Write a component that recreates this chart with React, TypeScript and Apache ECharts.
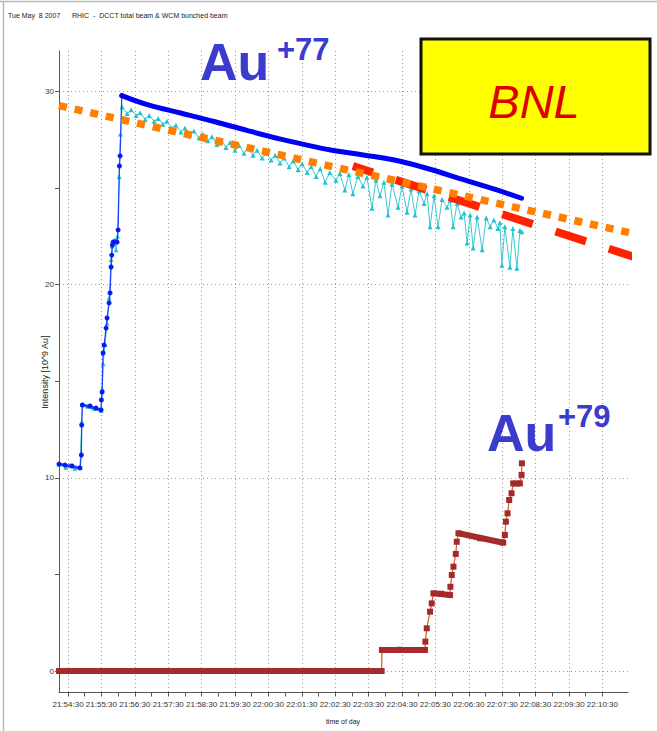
import React, { useEffect, useRef } from "react";
import * as echarts from "echarts";

// x values are minutes after 21:54:30, y values are 10^9 Au ions
const xTickLabels = [
  "21:54:30", "21:55:30", "21:56:30", "21:57:30", "21:58:30", "21:59:30",
  "22:00:30", "22:01:30", "22:02:30", "22:03:30", "22:04:30", "22:05:30",
  "22:06:30", "22:07:30", "22:08:30", "22:09:30", "22:10:30",
];
const yTickValues = [0, 10, 20, 30];

// Au+77 DCCT total beam (blue) during injection ramp
const dcctRamp: [number, number][] = [
  [-0.27, 10.71], [-0.09, 10.66], [0.12, 10.61], [0.36, 10.51], [0.4, 11.18],
  [0.41, 12.73], [0.43, 13.77], [0.66, 13.72], [0.84, 13.61], [0.99, 13.51],
  [1.0, 14.03], [1.02, 14.44], [1.05, 16.46], [1.08, 16.87], [1.14, 17.75],
  [1.17, 18.27], [1.23, 19.05], [1.26, 19.57], [1.29, 20.91], [1.31, 21.53],
  [1.33, 22.05], [1.35, 22.2], [1.41, 22.22], [1.47, 22.2], [1.5, 22.83],
  [1.54, 26.14], [1.56, 26.66], [1.61, 29.78],
];
// Au+77 DCCT total beam after the last injection
const dcctDecay: [number, number][] = [
  [1.61, 29.78], [2.4, 29.3], [3.4, 28.87], [4.4, 28.43], [5.4, 27.96],
  [6.4, 27.52], [7.4, 27.13], [7.99, 26.93], [8.84, 26.71], [9.84, 26.42],
  [10.84, 25.97], [11.84, 25.43], [12.84, 24.9], [13.58, 24.47],
];
// flat stretches of the DCCT ramp [x0, y0, x1, y1]
const dcctPlateaus: [number, number, number, number][] = [
  [-0.27, 10.71, 0.36, 10.51], [0.43, 13.77, 0.99, 13.51], [1.33, 22.1, 1.47, 22.2],
];
// Au+77 WCM bunched beam (cyan)
const wcmAu77: [number, number][] = [
  [-0.27, 10.7], [-0.06, 10.55], [0.06, 10.65], [0.21, 10.5], [0.36, 10.55],
  [0.41, 12.9], [0.43, 13.8], [0.6, 13.7], [0.78, 13.6], [0.99, 13.5],
  [1.03, 14.6], [1.05, 15.9], [1.11, 16.9], [1.17, 18.0], [1.23, 19.3],
  [1.29, 21.3], [1.32, 22.0], [1.38, 22.3], [1.44, 21.8], [1.48, 22.5],
  [1.53, 25.6], [1.57, 27.8], [1.62, 29.2], [1.77, 28.85], [1.89, 29.05],
  [2.04, 28.75], [2.16, 28.9], [2.31, 28.55], [2.43, 28.75], [2.58, 28.45],
  [2.7, 28.6], [2.84, 28.3], [2.96, 28.45], [3.11, 28.1], [3.23, 28.25],
  [3.38, 27.9], [3.5, 28.1], [3.65, 27.75], [3.77, 27.95], [3.92, 27.6],
  [4.04, 27.8], [4.19, 27.45], [4.31, 27.65], [4.46, 27.25], [4.58, 27.5],
  [4.73, 27.1], [4.85, 27.35], [5.0, 26.95], [5.12, 27.2], [5.27, 26.8],
  [5.39, 27.05], [5.54, 26.7], [5.66, 26.95], [5.81, 26.55], [5.93, 26.8],
  [6.08, 26.45], [6.2, 26.7], [6.35, 26.3], [6.47, 26.55], [6.62, 26.1],
  [6.74, 26.4], [6.89, 25.95], [7.01, 26.25], [7.16, 25.8], [7.28, 26.1],
  [7.43, 25.6], [7.55, 26.0], [7.7, 25.3], [7.84, 25.8], [8.02, 25.4],
  [8.14, 25.75], [8.29, 24.9], [8.41, 25.7], [8.53, 24.7], [8.68, 25.6],
  [8.83, 25.1], [8.95, 25.55], [9.1, 23.95], [9.22, 25.4], [9.34, 24.6],
  [9.46, 25.3], [9.58, 23.6], [9.7, 25.2], [9.88, 24.0], [10.0, 25.1],
  [10.15, 23.75], [10.27, 24.95], [10.39, 23.6], [10.51, 24.85], [10.66, 24.2],
  [10.75, 24.7], [10.84, 23.0], [10.96, 24.6], [11.08, 23.0], [11.2, 24.4],
  [11.35, 24.0], [11.44, 24.35], [11.53, 23.0], [11.65, 24.2], [11.77, 23.5],
  [11.86, 23.7], [11.95, 22.15], [12.04, 23.6], [12.13, 21.9], [12.25, 23.5],
  [12.4, 21.8], [12.52, 23.45], [12.64, 23.0], [12.75, 23.35], [12.87, 22.9],
  [12.93, 23.2], [12.99, 21.0], [13.08, 23.0], [13.23, 20.9], [13.32, 22.9],
  [13.44, 20.85], [13.53, 22.8], [13.59, 22.74],
];
// Au+79 beam (brown)
const au79: [number, number][] = [
  [-0.27, 0], [9.39, 0], [9.4, 1.09], [9.94, 1.1], [10.69, 1.09], [10.7, 1.52],
  [10.74, 2.21], [10.84, 3.07], [10.89, 3.5], [10.94, 4.02], [11.17, 4.0],
  [11.44, 3.93], [11.45, 4.36], [11.49, 4.97], [11.54, 5.4], [11.61, 6.06],
  [11.64, 6.69], [11.69, 7.13], [12.34, 6.87], [13.03, 6.64], [13.08, 7.04],
  [13.11, 7.73], [13.16, 8.16], [13.21, 8.85], [13.28, 9.2], [13.33, 9.71],
  [13.53, 9.71], [13.58, 10.15], [13.59, 10.75],
];
const au79Plateaus: [number, number, number, number][] = [
  [-0.27, 0, 9.39, 0], [9.4, 1.09, 10.69, 1.09], [10.94, 4.02, 11.44, 3.93],
  [11.69, 7.13, 13.03, 6.64], [13.33, 9.71, 13.53, 9.71],
];
// hand-drawn extrapolations
const orangeTrend: [number, number][] = [[-0.27, 29.26], [17.13, 22.56]];
const redTrend: [number, number][] = [[8.53, 26.14], [17.13, 21.33]];

// layout (pixels)
const PX_T0 = 68; // 21:54:30
const PX_PER_MIN = 33.4;
const PY_ZERO = 671;
const PY_PER_UNIT = 19.32;
const PLOT_L = 59, PLOT_R = 628, PLOT_T = 51, PLOT_B = 692.5;

const FONT = '"Liberation Sans Narrow", "Liberation Sans", sans-serif';

function segs(list: [number, number, number, number][]) {
  const out: any[] = [];
  list.forEach(([x0, y0, x1, y1]) => {
    out.push([x0, y0], [x1, y1], [x1, "-"]);
  });
  return out;
}

export default function App() {
  const ref = useRef<HTMLDivElement>(null);
  useEffect(() => {
    if (!ref.current) return;
    const chart = echarts.init(ref.current, null, { renderer: "svg" });
    const xMin = (PLOT_L - PX_T0) / PX_PER_MIN;
    const xMax = (PLOT_R - PX_T0) / PX_PER_MIN;
    const yMin = (PY_ZERO - PLOT_B) / PY_PER_UNIT;
    const yMax = (PY_ZERO - PLOT_T) / PY_PER_UNIT;
    const nTicks = xTickLabels.length - 1;
    const top30 = PY_ZERO - yTickValues[yTickValues.length - 1] * PY_PER_UNIT;
    const axisColor = "#555";
    const gridLine = { show: true, lineStyle: { type: [1, 3] as any, color: "#9a9a9a", width: 1 } };

    const option: any = {
      animation: false,
      backgroundColor: "#ffffff",
      grid: [
        { left: PLOT_L, top: PLOT_T, width: PLOT_R - PLOT_L, height: PLOT_B - PLOT_T },
        { left: PX_T0, top: PLOT_T, width: nTicks * PX_PER_MIN, height: PLOT_B - PLOT_T },
        { left: PLOT_L, top: top30, width: PLOT_R - PLOT_L, height: PY_ZERO - top30 },
      ],
      xAxis: [
        {
          gridIndex: 0, type: "value", min: xMin, max: xMax,
          axisLine: { show: true, onZero: false, lineStyle: { color: axisColor, width: 1 } },
          axisTick: { show: false }, axisLabel: { show: false }, splitLine: { show: false },
        },
        {
          gridIndex: 1, type: "value", min: 0, max: nTicks, interval: 1,
          axisLine: { show: false },
          axisTick: { show: true, length: 4, lineStyle: { color: axisColor } },
          minorTick: { show: true, splitNumber: 2, length: 4, lineStyle: { color: axisColor } },
          axisLabel: {
            formatter: (v: number) => xTickLabels[Math.round(v)] ?? "",
            fontSize: 8, fontFamily: FONT, color: "#333", margin: 8,
          },
          splitLine: gridLine,
        },
        { gridIndex: 2, type: "value", min: 0, max: 1, show: false },
      ],
      yAxis: [
        {
          gridIndex: 0, type: "value", min: yMin, max: yMax,
          axisLine: { show: true, onZero: false, lineStyle: { color: axisColor, width: 1 } },
          axisTick: { show: false }, axisLabel: { show: false }, splitLine: { show: false },
        },
        { gridIndex: 1, type: "value", min: 0, max: 1, show: false },
        {
          gridIndex: 2, type: "value", min: 0, max: 30, interval: 10,
          axisLine: { show: false },
          axisTick: { show: true, length: 4, lineStyle: { color: axisColor } },
          minorTick: { show: true, splitNumber: 2, length: 4, lineStyle: { color: axisColor } },
          axisLabel: { fontSize: 8, fontFamily: FONT, color: "#333", margin: 5 },
          splitLine: gridLine,
        },
      ],
      series: [
        {
          type: "line", name: "WCM Au77", data: wcmAu77, xAxisIndex: 0, yAxisIndex: 0,
          symbol: "triangle", symbolSize: 5, showSymbol: true,
          lineStyle: { color: "#3cc8d2", width: 1 }, itemStyle: { color: "#20c4cc" }, z: 2,
        },
        {
          type: "line", name: "DCCT plateaus", data: segs(dcctPlateaus), xAxisIndex: 0, yAxisIndex: 0,
          symbol: "none", connectNulls: false,
          lineStyle: { color: "#2030f0", width: 3, opacity: 0.8 }, z: 3,
        },
        {
          type: "line", name: "DCCT ramp", data: dcctRamp, xAxisIndex: 0, yAxisIndex: 0,
          symbol: "circle", symbolSize: 5, showSymbol: true,
          lineStyle: { color: "#1a3cff", width: 1.2 }, itemStyle: { color: "#0a1af0" }, z: 3,
        },
        {
          type: "line", name: "DCCT decay", data: dcctDecay, xAxisIndex: 0, yAxisIndex: 0,
          symbol: "none", smooth: 0.4,
          lineStyle: { color: "#0000f5", width: 5, cap: "round" }, z: 4,
        },
        {
          type: "line", name: "Au79 WCM", data: au79, xAxisIndex: 0, yAxisIndex: 0,
          symbol: "triangle", symbolSize: 3, showSymbol: true,
          lineStyle: { color: "#ffa020", width: 1 }, itemStyle: { color: "#ffa500" }, z: 3,
        },
        {
          type: "line", name: "Au79", data: au79, xAxisIndex: 0, yAxisIndex: 0,
          symbol: "rect", symbolSize: 6, showSymbol: true,
          lineStyle: { color: "#c0604a", width: 1 }, itemStyle: { color: "#a52a2a" }, z: 4,
        },
        {
          type: "line", name: "Au79 plateaus", data: segs(au79Plateaus), xAxisIndex: 0, yAxisIndex: 0,
          symbol: "none", connectNulls: false,
          lineStyle: { color: "#a52a2a", width: 6 }, z: 5,
        },
        {
          type: "line", name: "red trend", data: redTrend, xAxisIndex: 0, yAxisIndex: 0,
          symbol: "none", clip: false,
          lineStyle: { color: "#ff2200", width: 8, type: [32, 24], dashOffset: 11, cap: "butt" }, z: 6,
        },
        {
          type: "line", name: "orange trend", data: orangeTrend, xAxisIndex: 0, yAxisIndex: 0,
          symbol: "none", clip: false,
          lineStyle: { color: "#ff7f00", width: 7.5, type: [8, 8], cap: "butt" }, z: 7,
        },
      ],
      graphic: [
        { type: "line", shape: { x1: 0, y1: 1.5, x2: 657, y2: 1.5 }, style: { stroke: "#b8b8b8", lineWidth: 1.5 }, z: 10 },
        { type: "line", shape: { x1: 3.5, y1: 1, x2: 3.5, y2: 731 }, style: { stroke: "#b8b8b8", lineWidth: 1.5 }, z: 10 },
        { type: "text", x: 8, y: 15, style: { text: "Tue May  8 2007", fill: "#222", font: `7px ${FONT}`, textVerticalAlign: "middle" } },
        { type: "text", x: 72, y: 15, style: { text: "RHIC  -  DCCT total beam & WCM bunched beam", fill: "#222", font: `7px ${FONT}`, textVerticalAlign: "middle" } },
        { type: "text", x: 343, y: 721, style: { text: "time of day", fill: "#222", font: `7px ${FONT}`, textAlign: "center", textVerticalAlign: "middle" } },
        { type: "text", x: 45, y: 372, rotation: Math.PI / 2, style: { text: "Intensity [10^9 Au]", fill: "#222", font: `9px ${FONT}`, textAlign: "center", textVerticalAlign: "middle" } },
        { type: "rect", shape: { x: 421, y: 39, width: 229, height: 115 }, style: { fill: "#ffff00", stroke: "#111", lineWidth: 3 }, z: 20 },
        { type: "text", x: 534, y: 101, style: { text: "BNL", fill: "#dd0000", font: 'italic 47px "Liberation Sans", sans-serif', textAlign: "center", textVerticalAlign: "middle" }, z: 21 },
        { type: "text", x: 200, y: 62, style: { text: "Au", fill: "#3b3bcc", font: 'bold 52px "Liberation Sans", sans-serif', textVerticalAlign: "middle" }, z: 21 },
        { type: "text", x: 277, y: 49, style: { text: "+77", fill: "#3b3bcc", font: 'bold 31px "Liberation Sans", sans-serif', textVerticalAlign: "middle" }, z: 21 },
        { type: "text", x: 487, y: 433, style: { text: "Au", fill: "#3b3bcc", font: 'bold 52px "Liberation Sans", sans-serif', textVerticalAlign: "middle" }, z: 21 },
        { type: "text", x: 558, y: 416, style: { text: "+79", fill: "#3b3bcc", font: 'bold 31px "Liberation Sans", sans-serif', textVerticalAlign: "middle" }, z: 21 },
      ],
    };
    chart.setOption(option);
    return () => chart.dispose();
  }, []);
  return (
    <div
      ref={ref}
      style={{ position: "fixed", left: 0, top: 0, width: 657, height: 731, background: "#fff" }}
    />
  );
}
